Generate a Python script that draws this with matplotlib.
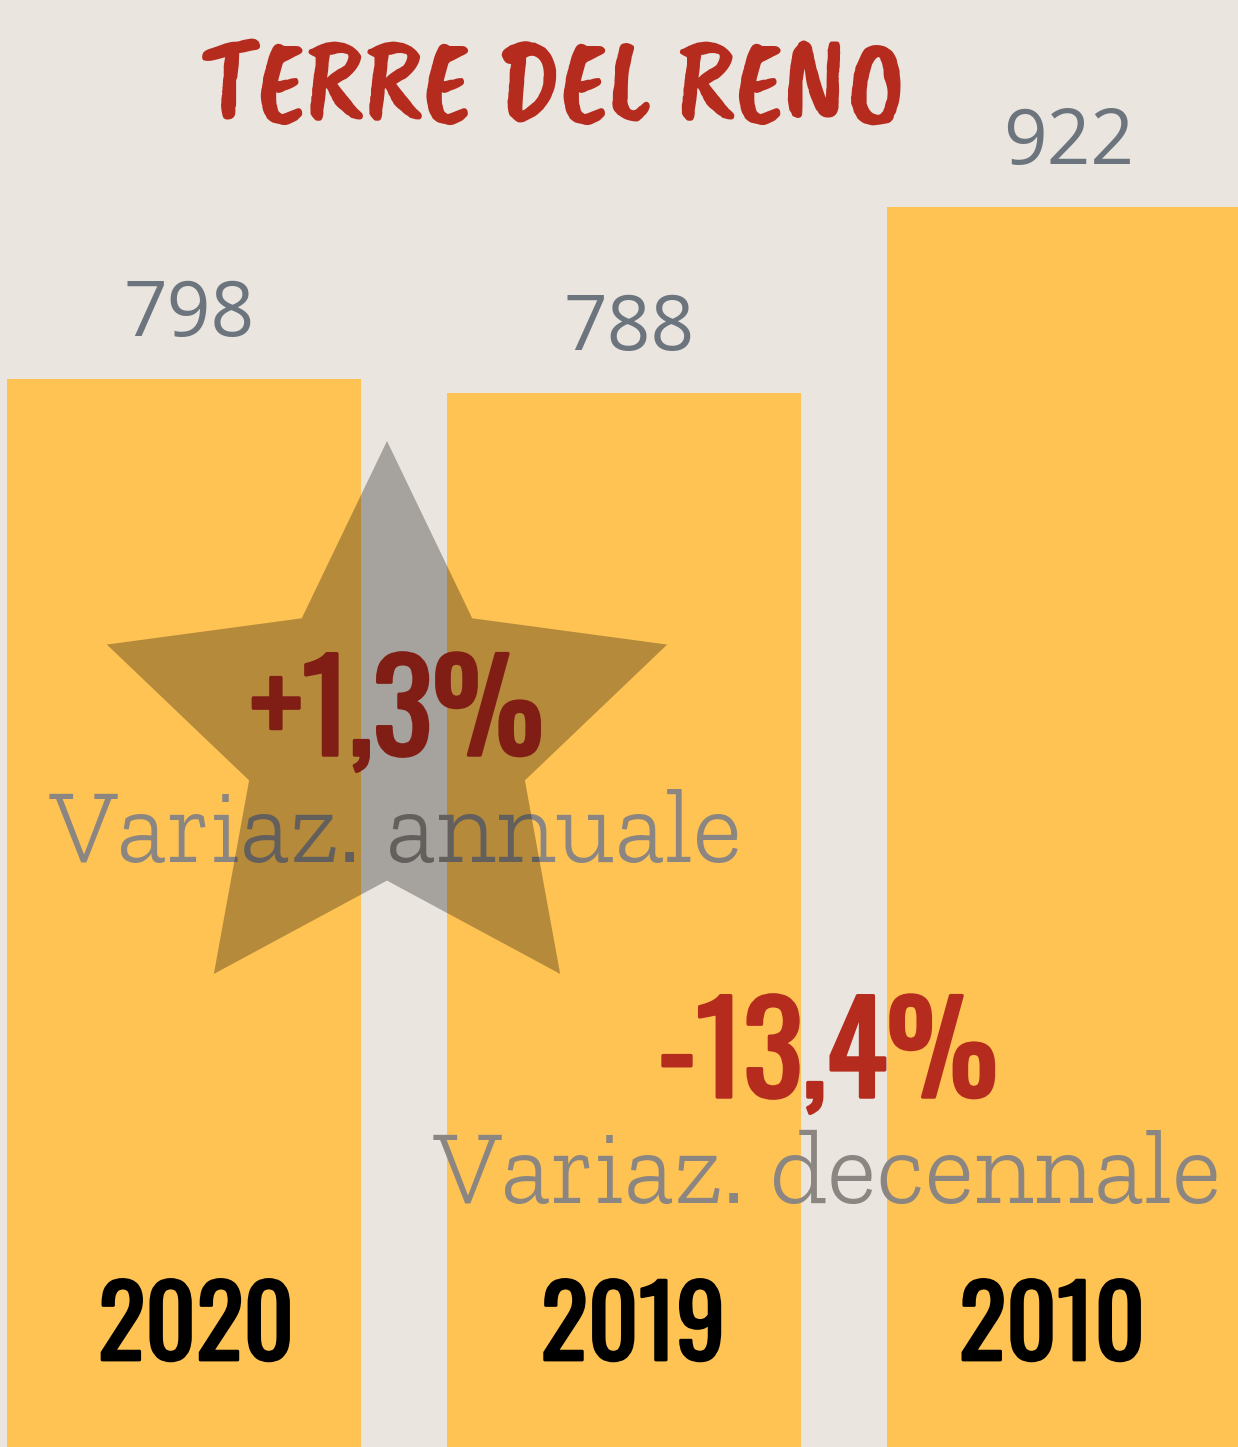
import matplotlib
matplotlib.use("Agg")
import matplotlib.pyplot as plt
from matplotlib import font_manager
from matplotlib.patches import Polygon
import matplotlib.patheffects as pe
import numpy as np

years = ["2020", "2019", "2010"]
values = [798, 788, 922]
value_labels = ["798", "788", "922"]
title = "TERRE DEL RENO"
annual_change = "+1,3%"
annual_label = "Variaz. annuale"
decade_change = "-13,4%"
decade_label = "Variaz. decennale"

names = {f.name for f in font_manager.fontManager.ttflist}

def pick(cands):
    for c in cands:
        if c in names:
            return c
    return "DejaVu Sans"

COND = pick(["Oswald", "Roboto Condensed", "Liberation Sans Narrow"])
SLAB = pick(["Roboto Slab", "Zilla Slab", "DejaVu Serif"])
BRUSH = pick(["Caveat Brush", "Caveat", "Permanent Marker"])
SANS = pick(["Open Sans", "Noto Sans"])

BG = "#EAE5DF"
BAR = "#FFC354"
RED = "#B52B1E"
GRAY = "#8B8682"
NUM = "#6C757D"

W, H = 1238, 1447
fig = plt.figure(figsize=(W / 100, H / 100), dpi=100, facecolor=BG)
ax = fig.add_axes([0, 0, 1, 1])
ax.set_facecolor(BG)
ax.set_xlim(-184 / 440, (W - 184) / 440)
ax.set_ylim(28.8, 1071.3)
ax.axis("off")

x = np.arange(len(values))
bars = ax.bar(x, values, width=354 / 440, color=BAR, zorder=1)
for b, lab in zip(bars, value_labels):
    ax.annotate(lab, (b.get_x() + b.get_width() / 2 + 5 / 440, b.get_height()),
                xytext=(0, 31), textcoords="offset points", ha="center", va="baseline",
                fontsize=55, color=NUM, family=SANS, zorder=2)

def px(xp, yp):
    return (xp / W, 1 - yp / H)

def bold(c, w):
    return [pe.withStroke(linewidth=w, foreground=c)]

fig.text(*px(553, 120), title, ha="center", va="baseline", fontsize=86, color=RED,
         family=BRUSH, zorder=3)

fig.text(*px(397, 755), annual_change, ha="center", va="baseline", fontsize=90, color=RED,
         family=COND, zorder=3, path_effects=bold(RED, 2.5))
fig.text(*px(396, 862), annual_label, ha="center", va="baseline", fontsize=76, color=GRAY,
         family=SLAB, weight="light", zorder=3)
fig.text(*px(828, 1097), decade_change, ha="center", va="baseline", fontsize=90, color=RED,
         family=COND, zorder=3, path_effects=bold(RED, 2.5))
fig.text(*px(828, 1203), decade_label, ha="center", va="baseline", fontsize=76, color=GRAY,
         family=SLAB, weight="light", zorder=3)

year_x = [196, 633, 1052]
for yx, yr in zip(year_x, years):
    fig.text(*px(yx, 1360), yr, ha="center", va="baseline", fontsize=71, color="black",
             family=COND, zorder=3, path_effects=bold("black", 2))

# star drawn on top, in figure pixel coordinates
cx, cy, R, r = 387, 735.6, 294.6, 145
pts = []
for i in range(10):
    ang = np.pi / 2 + i * np.pi / 5
    rad = R if i % 2 == 0 else r
    pts.append(((cx + rad * np.cos(ang)) / W, 1 - (cy - rad * np.sin(ang)) / H))
star = Polygon(pts, closed=True, transform=fig.transFigure, facecolor="black",
               alpha=0.29, edgecolor="none", zorder=10)
fig.add_artist(star)

fig.savefig("out.png", dpi=100, facecolor=BG)
